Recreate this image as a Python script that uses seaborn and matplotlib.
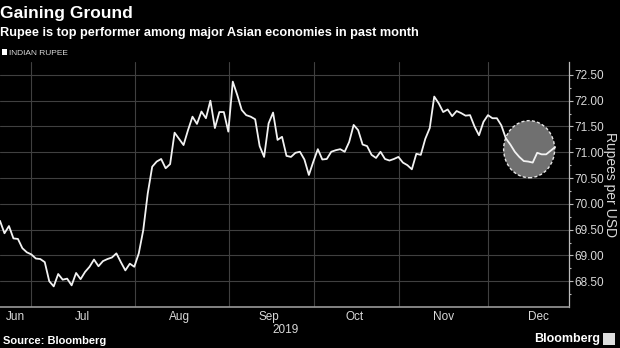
import matplotlib
matplotlib.use("Agg")
import matplotlib.pyplot as plt
from matplotlib.patches import Patch, Ellipse, Rectangle
import numpy as np
import pandas as pd
import seaborn as sns

# ---- data (USD/INR, trading sessions) ----
rupee = [
    69.67, 69.43, 69.57, 69.33, 69.32, 69.14, 69.06, 69.02, 68.94, 68.93,
    68.87, 68.50, 68.40, 68.64, 68.53, 68.55, 68.42, 68.66, 68.54, 68.68,
    68.78, 68.92, 68.79, 68.89, 68.93, 68.96, 69.04, 68.87, 68.71, 68.84,
    68.78, 69.04, 69.49, 70.20, 70.72, 70.82, 70.87, 70.69, 70.77, 71.38,
    71.26, 71.14, 71.43, 71.69, 71.55, 71.79, 71.66, 72.00, 71.47, 71.78,
    71.78, 71.40, 72.37, 72.11, 71.82, 71.72, 71.69, 71.64, 71.12, 70.91,
    71.56, 71.77, 71.24, 71.30, 70.93, 70.91, 70.99, 71.01, 70.86, 70.56,
    70.82, 71.06, 70.86, 70.87, 71.01, 71.04, 71.06, 71.01, 71.20, 71.53,
    71.43, 71.15, 71.12, 70.95, 70.89, 71.01, 70.87, 70.84, 70.87, 70.91,
    70.80, 70.75, 70.67, 70.97, 70.95, 71.26, 71.47, 72.08, 71.95, 71.78,
    71.83, 71.70, 71.80, 71.76, 71.71, 71.72, 71.50, 71.33, 71.59, 71.72,
    71.66, 71.66, 71.52, 71.27, 71.15, 71.01, 70.91, 70.83, 70.82, 70.80,
    70.99, 70.96, 70.96, 71.03, 71.10,
]
session = list(range(len(rupee)))

month_starts = [7, 30.25, 51.05, 70.15, 89.1, 109]          # Jul..Dec boundaries
month_label_pos = [3.35, 18.5, 40.2, 60.1, 79.3, 99.0, 120.2]
month_labels = ["Jun", "Jul", "Aug", "Sep", "Oct", "Nov", "Dec"]
year_label, year_label_pos = "2019", 63.7
y_major = [68.5, 69.0, 69.5, 70.0, 70.5, 71.0, 71.5, 72.0, 72.5]
y_minor = [68.25, 68.75, 69.25, 69.75, 70.25, 70.75, 71.25, 71.75, 72.25]
x_limits = (0, 127.1)
y_limits = (68.0, 72.75)
highlight_center = (118.2, 71.06)
highlight_size = (11.4, 1.107)

title = "Gaining Ground"
subtitle = "Rupee is top performer among major Asian economies in past month"
series_name = "INDIAN RUPEE"
y_title = "Rupees per USD"
source = "Source: Bloomberg"

df = pd.DataFrame({"session": session, "rupee": rupee})

# ---- style ----
sns.set_theme(style="dark")
BG = "#000000"
GRID = "#404040"
TXT = "#d9d9d9"
plt.rcParams.update({
    "figure.facecolor": BG, "axes.facecolor": BG, "savefig.facecolor": BG,
    "text.color": TXT, "xtick.color": TXT, "ytick.color": TXT,
})
plt.rcParams["font.family"] = ["Liberation Sans", "DejaVu Sans"]

fig = plt.figure(figsize=(6.2, 3.48), dpi=100)
ax = fig.add_axes([0.0, 0.1178, 0.9177, 0.704])

# highlight circle (under the line)
ax.add_patch(Ellipse(highlight_center, highlight_size[0], highlight_size[1],
                     facecolor="#707070", edgecolor="#e6e6e6", lw=1.0,
                     ls=(0, (2.2, 1.6)), zorder=2))

sns.lineplot(data=df, x="session", y="rupee", ax=ax, color="#f2f2f2",
             lw=1.3, legend=False, zorder=3)

ax.set_xlim(*x_limits)
ax.set_ylim(*y_limits)

# x axis
ax.set_xticks(month_starts)
ax.set_xticklabels([])
ax.set_xticks(month_label_pos, minor=True)
ax.set_xticklabels(month_labels, minor=True, fontsize=8.5, color=TXT)
ax.tick_params(axis="x", which="major", length=2, width=0.8, color="#888888",
               direction="out")
ax.tick_params(axis="x", which="minor", length=0, pad=3)
ax.text(year_label_pos, -0.07, year_label, transform=ax.get_xaxis_transform(),
        ha="center", va="top", fontsize=8.5, color=TXT)

# y axis on right
ax.yaxis.tick_right()
ax.yaxis.set_label_position("right")
ax.set_yticks(y_major)
ax.set_yticklabels([f"{v:.2f}" for v in y_major], fontsize=8.5, color=TXT)
ax.set_yticks(y_minor, minor=True)
ax.tick_params(axis="y", which="major", length=3, width=0.8, color="#bbbbbb", pad=1)
ax.tick_params(axis="y", which="minor", length=1.5, width=0.8, color="#bbbbbb")
ax.set_ylabel(y_title, rotation=270, labelpad=9, fontsize=10, color=TXT)
ax.set_xlabel("")

ax.grid(True, which="major", color=GRID, lw=0.8)
ax.grid(False, which="minor")

for s in ["left", "top"]:
    ax.spines[s].set_visible(False)
ax.spines["right"].set_color("#bbbbbb")
ax.spines["bottom"].set_color("#999999")
ax.spines["right"].set_linewidth(0.9)
ax.spines["bottom"].set_linewidth(1.2)

# titles
fig.text(0.0, 0.962, title, fontsize=12.5, fontweight="bold", color="#ffffff",
         ha="left", va="center")
fig.text(0.0, 0.905, subtitle, fontsize=9.2, fontweight="bold", color="#ffffff",
         ha="left", va="center")

fig.legend(handles=[Patch(facecolor="#ffffff", edgecolor="none", label=series_name)],
           loc="upper left", bbox_to_anchor=(0.003, 0.858), frameon=False,
           handlelength=0.6, handleheight=0.6, handletextpad=0.3, borderpad=0,
           borderaxespad=0, fontsize=6, labelcolor=TXT)

fig.text(0.005, 0.005, source, fontsize=8, fontweight="bold", color="#ffffff",
         ha="left", va="bottom")
fig.text(0.968, 0.01, "Bloomberg", fontsize=9, fontweight="bold", color="#ffffff",
         ha="right", va="bottom")
fig.patches.append(Rectangle((0.973, 0.008), 0.019, 0.036, transform=fig.transFigure,
                             facecolor="#dddddd", edgecolor="none"))

fig.savefig("out.png", dpi=100)
